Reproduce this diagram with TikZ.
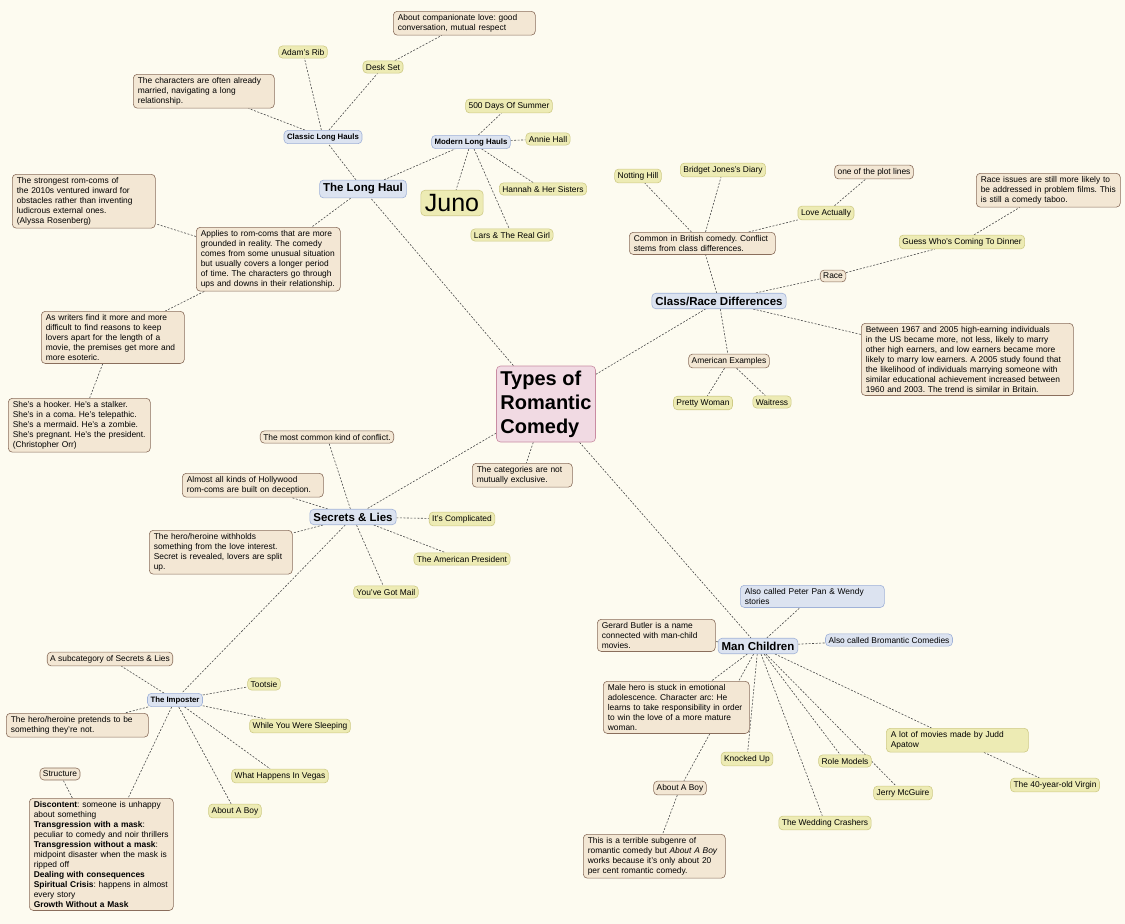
\documentclass[tikz,border=0pt]{standalone}
\usepackage{fontspec}
\setmainfont{Liberation Sans}
\usetikzlibrary{backgrounds}
\hyphenpenalty=10000 \exhyphenpenalty=10000
\frenchspacing
\begin{document}
\begin{tikzpicture}[x=1pt,y=-1pt,
 base/.style={draw,rounded corners=4pt,line width=0.6pt,font=\fontsize{8.4}{10}\selectfont,inner sep=3pt,align=left},
 yel/.style={base,fill=yellowfill,draw=yellowline},
 tan/.style={base,fill=tanfill,draw=tanline},
 blu/.style={base,fill=bluefill,draw=blueline},
 bigblu/.style={blu,font=\fontsize{11.5}{13}\selectfont\bfseries,inner sep=3.5pt},
 smblu/.style={blu,font=\fontsize{7.8}{9}\selectfont\bfseries},
 tb/.style={tan,anchor=north west,inner xsep=4.5pt,text width=\dimexpr#1pt-3pt\relax},
 e/.style={draw=black!70,line width=0.6pt,dash pattern=on 2pt off 1.5pt}]
\definecolor{bg}{HTML}{FDFBF0}
\definecolor{yellowfill}{HTML}{EDEBB4}
\definecolor{yellowline}{HTML}{CFCB86}
\definecolor{tanfill}{HTML}{F3E7D4}
\definecolor{tanline}{HTML}{8A6E5C}
\definecolor{bluefill}{HTML}{DCE3F0}
\definecolor{blueline}{HTML}{A0B2D8}
\definecolor{pinkfill}{HTML}{F1DAE3}
\definecolor{pinkline}{HTML}{C98CA2}
\useasboundingbox (0,0) rectangle (1125,924);

\node[base,fill=pinkfill,draw=pinkline,font=\fontsize{20}{24}\selectfont\bfseries,minimum width=99,minimum height=76,inner sep=3pt] (c) at (546,404) {Types of\\Romantic\\Comedy};

% Long haul
\node[bigblu] (lh) at (363,189) {The Long Haul};
\node[smblu] (cl) at (323,137) {Classic Long Hauls};
\node[smblu] (ml) at (471,142) {Modern Long Hauls};
\node[yel] (adam) at (303,52) {Adam's Rib};
\node[yel] (desk) at (383,67) {Desk Set};
\node[tb=136] (comp) at (393,11) {About companionate love: good conversation, mutual respect};
\node[tb=135] (marr) at (133,74) {The characters are often already married, navigating a long relationship.};
\node[yel] (d500) at (509,106) {500 Days Of Summer};
\node[yel] (annie) at (548,139) {Annie Hall};
\node[yel,font=\fontsize{25}{27}\selectfont,inner sep=4pt] (juno) at (452,203) {Juno};
\node[yel] (hannah) at (543,189) {Hannah \& Her Sisters};
\node[yel] (lars) at (512,235) {Lars \& The Real Girl};
\node[tb=138] (appl) at (196,227) {Applies to rom-coms that are more grounded in reality. The comedy comes from some unusual situation but usually covers a longer period of time. The characters go through ups and downs in their relationship.};
\node[tb=137] (strong) at (12,174) {The strongest rom-coms of the 2010s ventured inward for obstacles rather than inventing ludicrous external ones.\\(Alyssa Rosenberg)};
\node[tb=137] (writers) at (41,311) {As writers find it more and more difficult to find reasons to keep lovers apart for the length of a movie, the premises get more and more esoteric.};
\node[tb=136] (hook) at (8,398) {She's a hooker. He's a stalker. She's in a coma. He's telepathic. She's a mermaid. He's a zombie. She's pregnant. He's the president. (Christopher Orr)};

% Class/Race
\node[bigblu] (cr) at (719,301) {Class/Race Differences};
\node[tb=140] (brit) at (629,232) {Common in British comedy. Conflict stems from class differences.};
\node[yel] (notting) at (638,176) {Notting Hill};
\node[yel] (bridget) at (723,170) {Bridget Jones's Diary};
\node[yel] (love) at (826,213) {Love Actually};
\node[tan] (plot) at (874,172) {one of the plot lines};
\node[tan] (race) at (833,276) {Race};
\node[yel] (guess) at (962,242) {Guess Who's Coming To Dinner};
\node[tb=138] (rissue) at (976,173) {Race issues are still more likely to be addressed in problem films. This is still a comedy taboo.};
\node[tb=206] (betw) at (861,323) {Between 1967 and 2005 high-earning individuals in the US became more, not less, likely to marry other high earners, and low earners became more likely to marry low earners. A 2005 study found that the likelihood of individuals marrying someone with similar educational achievement increased between 1960 and 2003. The trend is similar in Britain.};
\node[tan] (amer) at (729,361) {American Examples};
\node[yel] (pretty) at (703,403) {Pretty Woman};
\node[yel] (waitr) at (772,402) {Waitress};
\node[tb=94] (notex) at (472,463) {The categories are not mutually exclusive.};

% Secrets & Lies
\node[bigblu] (sl) at (353,517) {Secrets \& Lies};
\node[tan] (most) at (327,437) {The most common kind of conflict.};
\node[tb=135] (decep) at (182,473) {Almost all kinds of Hollywood rom-coms are built on deception.};
\node[tb=137] (withh) at (149,530) {The hero/heroine withholds something from the love interest. Secret is revealed, lovers are split up.};
\node[yel] (compl) at (462,519) {It's Complicated};
\node[yel] (apres) at (462,559) {The American President};
\node[yel] (mail) at (386,592) {You've Got Mail};
\node[smblu] (imp) at (175,700) {The Imposter};
\node[tan] (subc) at (110,659) {A subcategory of Secrets \& Lies};
\node[tb=136] (pret) at (6,713) {The hero/heroine pretends to be something they're not.};
\node[yel] (toot) at (264,684) {Tootsie};
\node[yel] (while) at (300,726) {While You Were Sleeping};
\node[yel] (vegas) at (280,776) {What Happens In Vegas};
\node[yel] (boy1) at (235,811) {About A Boy};
\node[tan] (struct) at (60,774) {Structure};
\node[tb=138] (disc) at (29,798) {\textbf{Discontent}: someone is unhappy about something\\\textbf{Transgression with a mask}:\\peculiar to comedy and noir thrillers\\\textbf{Transgression without a mask}:\\midpoint disaster when the mask is ripped off\\\textbf{Dealing with consequences}\\\textbf{Spiritual Crisis}: happens in almost every story\\\textbf{Growth Without a Mask}};

% Man Children
\node[bigblu] (mc) at (758,646) {Man Children};
\node[blu,anchor=north west,inner xsep=4.5pt,text width=135] (peter) at (740,585) {Also called Peter Pan \& Wendy stories};
\node[blu] (brom) at (889,640) {Also called Bromantic Comedies};
\node[tb=112] (gerard) at (597,619) {Gerard Butler is a name connected with man-child movies.};
\node[tb=140] (male) at (603,681) {Male hero is stuck in emotional adolescence. Character arc: He learns to take responsibility in order to win the love of a more mature woman.};
\node[yel] (knock) at (747,759) {Knocked Up};
\node[tan] (boy2) at (680,788) {About A Boy};
\node[yel] (role) at (845,761) {Role Models};
\node[yel] (jerry) at (903,793) {Jerry McGuire};
\node[yel] (wed) at (825,823) {The Wedding Crashers};
\node[yel,anchor=north west,inner xsep=4.5pt,text width=133] (judd) at (886,728) {A lot of movies made by Judd Apatow};
\node[yel] (forty) at (1055,785) {The 40-year-old Virgin};
\node[tb=136] (terr) at (583,834) {This is a terrible subgenre of romantic comedy but \textit{About A Boy} works because it's only about 20 per cent romantic comedy.};

\begin{scope}[on background layer]
\fill[bg] (0,0) rectangle (1125,924);
\foreach \a/\b in {c/lh,c/cr,c/sl,c/mc,c/notex,lh/cl,lh/ml,lh/appl,cl/adam,cl/desk,cl/marr,desk/comp,ml/d500,ml/annie,ml/juno,ml/hannah,ml/lars,appl/strong,appl/writers,writers/hook,cr/brit,cr/race,cr/betw,cr/amer,brit/notting,brit/bridget,brit/love,love/plot,race/guess,guess/rissue,amer/pretty,amer/waitr,sl/most,sl/decep,sl/withh,sl/compl,sl/apres,sl/mail,sl/imp,imp/subc,imp/pret,imp/toot,imp/while,imp/vegas,imp/boy1,imp/disc,disc/struct,mc/peter,mc/brom,mc/gerard,mc/male,mc/knock,mc/boy2,mc/role,mc/jerry,mc/wed,mc/judd,judd/forty,boy2/terr}
  \draw[e] (\a) -- (\b);
\end{scope}
\end{tikzpicture}
\end{document}
